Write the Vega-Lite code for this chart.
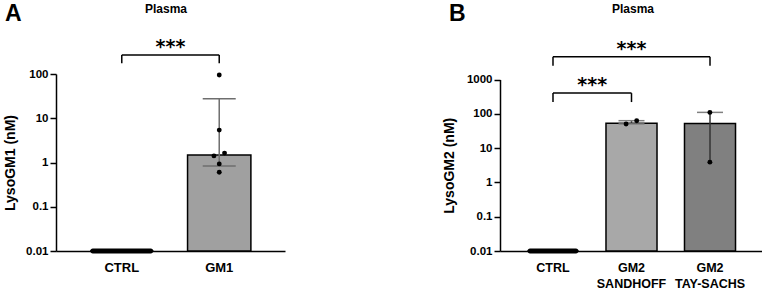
{
  "$schema": "https://vega.github.io/schema/vega-lite/v6.json",
  "background": "white",
  "padding": {"left": 3, "top": 2, "right": 0, "bottom": 0},
  "bounds": "flush",
  "spacing": 215,
  "config": {
    "view": {"stroke": null},
    "font": "Liberation Sans",
    "axis": {
      "grid": false,
      "domainColor": "black",
      "domainWidth": 1.5,
      "tickColor": "black",
      "tickWidth": 1.5,
      "labelColor": "black",
      "labelFont": "Liberation Sans",
      "labelFontWeight": "bold",
      "titleColor": "black",
      "titleFont": "Liberation Sans",
      "titleFontWeight": "bold"
    },
    "title": {"font": "Liberation Sans", "fontWeight": "bold", "color": "black", "fontSize": 23, "anchor": "start", "frame": "group"}
  },
  "hconcat": [
    {
      "width": 229,
      "height": 177,
      "title": {"text": "A", "dx": -51, "offset": -24},
      "resolve": {"axis": {"x": "independent"}, "scale": {"xOffset": "independent"}},
      "layer": [
        {
          "data": {"values": [
            {"group": "CTRL", "mean": 0.01},
            {"group": "GM1", "mean": 1.48, "lo": 0.83, "hi": 27.7}
          ]},
          "mark": {"type": "bar", "fill": "#a0a0a0", "stroke": "black", "strokeWidth": 1.5},
          "encoding": {
            "x": {"field": "group", "type": "nominal", "sort": ["CTRL", "GM1"],
              "scale": {"paddingInner": 0.35, "paddingOuter": 0.35},
              "axis": {"orient": "bottom", "title": null, "ticks": false, "labelAngle": 0, "labelFontSize": 13, "labelPadding": 10}},
            "y": {"field": "mean", "type": "quantitative",
              "scale": {"type": "log", "domain": [0.01, 100]},
              "axis": {"title": "LysoGM1 (nM)", "titleFontSize": 14, "titlePadding": 8, "values": [0.01, 0.1, 1, 10, 100], "format": "~g", "labelFontSize": 11.5, "tickSize": 6, "labelPadding": 2}},
            "y2": {"datum": 0.01}
          }
        },
        {
          "data": {"values": [
            {"group": "CTRL", "mean": 0.01}
          ]},
          "mark": {"type": "tick", "color": "black", "thickness": 5, "size": 63, "cornerRadius": 2.5, "opacity": 1},
          "encoding": {
            "x": {"field": "group", "type": "nominal",
              "axis": {"orient": "top", "title": "Plasma", "titleFontSize": 12, "titleX": 109.5, "labels": false, "ticks": false, "domain": false, "titlePadding": 59}},
            "y": {"field": "mean", "type": "quantitative"}
          }
        },
        {
          "data": {"values": [
            {"group": "GM1", "lo": 0.83, "hi": 27.7}
          ]},
          "mark": {"type": "rule", "color": "#6e6e6e", "strokeWidth": 1.5},
          "encoding": {
            "x": {"field": "group", "type": "nominal", "axis": null},
            "y": {"field": "lo", "type": "quantitative"},
            "y2": {"field": "hi"}
          }
        },
        {
          "data": {"values": [
            {"group": "GM1", "lo": 0.83, "hi": 27.7}
          ]},
          "transform": [{"fold": ["lo", "hi"], "as": ["end", "cap"]}],
          "mark": {"type": "tick", "color": "#6e6e6e", "thickness": 1.5, "size": 33, "opacity": 1},
          "encoding": {
            "x": {"field": "group", "type": "nominal", "axis": null},
            "y": {"field": "cap", "type": "quantitative"}
          }
        },
        {
          "data": {"values": [
            {"group": "GM1", "value": 95, "pos": "C"},
            {"group": "GM1", "value": 5.4, "pos": "C"},
            {"group": "GM1", "value": 1.63, "pos": "R"},
            {"group": "GM1", "value": 1.41, "pos": "L"},
            {"group": "GM1", "value": 0.93, "pos": "C"},
            {"group": "GM1", "value": 0.6, "pos": "C"}
          ]},
          "mark": {"type": "point", "filled": true, "color": "black", "size": 24, "opacity": 1},
          "encoding": {
            "x": {"field": "group", "type": "nominal", "axis": null},
            "xOffset": {"field": "pos", "type": "nominal", "scale": {"type": "point", "domain": ["L", "C", "R"], "padding": 0, "range": [26.4, 37]}},
            "y": {"field": "value", "type": "quantitative"}
          }
        },
        {
          "data": {"values": [
            {"from": "CTRL", "to": "GM1", "top": 268, "foot": 175, "label": "***"}
          ]},
          "mark": {"type": "rule", "color": "black", "strokeWidth": 1.5},
          "encoding": {
            "x": {"field": "from", "type": "nominal", "bandPosition": 0.5, "axis": null},
            "x2": {"field": "to"},
            "y": {"field": "top", "type": "quantitative"}
          }
        },
        {
          "data": {"values": [
            {"from": "CTRL", "to": "GM1", "top": 268, "foot": 175, "label": "***"}
          ]},
          "mark": {"type": "rule", "color": "black", "strokeWidth": 1.5},
          "encoding": {
            "x": {"field": "from", "type": "nominal", "bandPosition": 0.5, "axis": null},
            "y": {"field": "top", "type": "quantitative"},
            "y2": {"field": "foot"}
          }
        },
        {
          "data": {"values": [
            {"from": "CTRL", "to": "GM1", "top": 268, "foot": 175, "label": "***"}
          ]},
          "mark": {"type": "rule", "color": "black", "strokeWidth": 1.5},
          "encoding": {
            "x": {"field": "to", "type": "nominal", "bandPosition": 0.5, "axis": null},
            "y": {"field": "top", "type": "quantitative"},
            "y2": {"field": "foot"}
          }
        },
        {
          "data": {"values": [
            {"from": "CTRL", "to": "GM1", "top": 268, "foot": 175, "label": "***"}
          ]},
          "mark": {"type": "text", "font": "DejaVu Sans", "fontWeight": "bold", "fontSize": 19, "align": "center", "baseline": "alphabetic", "dy": -2, "color": "black"},
          "encoding": {
            "x": {"field": "from", "type": "nominal", "bandPosition": 1.269, "axis": null},
            "y": {"field": "top", "type": "quantitative"},
            "text": {"field": "label"}
          }
        }
      ]
    },
    {
      "width": 263,
      "height": 177,
      "title": {"text": "B", "dx": -51, "offset": -24},
      "resolve": {"axis": {"x": "independent"}, "scale": {"xOffset": "independent"}},
      "layer": [
        {
          "data": {"values": [
            {"group": "CTRL", "mean": 0.01},
            {"group": "GM2 SANDHOFF", "mean": 53},
            {"group": "GM2 TAY-SACHS", "mean": 52}
          ]},
          "mark": {"type": "bar", "stroke": "black", "strokeWidth": 1.5},
          "encoding": {
            "x": {"field": "group", "type": "nominal", "sort": ["CTRL", "GM2 SANDHOFF", "GM2 TAY-SACHS"],
              "scale": {"paddingInner": 0.35, "paddingOuter": 0.35},
              "axis": {"orient": "bottom", "title": null, "ticks": false, "labelAngle": 0, "labelFontSize": 12.5, "labelLineHeight": 16, "labelPadding": 10, "labelExpr": "split(datum.label, ' ')"}},
            "y": {"field": "mean", "type": "quantitative",
              "scale": {"type": "log", "domain": [0.01, 1000], "range": [177, 5.5]},
              "axis": {"title": "LysoGM2 (nM)", "titleFontSize": 14, "titlePadding": 10, "values": [0.01, 0.1, 1, 10, 100, 1000], "format": "~g", "labelFontSize": 11.5, "tickSize": 6, "labelPadding": 2}},
            "y2": {"datum": 0.01},
            "fill": {"field": "group", "type": "nominal", "legend": null,
              "scale": {"domain": ["CTRL", "GM2 SANDHOFF", "GM2 TAY-SACHS"], "range": ["#000000", "#a8a8a8", "#808080"]}}
          }
        },
        {
          "data": {"values": [
            {"group": "CTRL", "mean": 0.01}
          ]},
          "mark": {"type": "tick", "color": "black", "thickness": 5, "size": 51, "cornerRadius": 2.5, "opacity": 1},
          "encoding": {
            "x": {"field": "group", "type": "nominal",
              "axis": {"orient": "top", "title": "Plasma", "titleFontSize": 12, "titleX": 132.5, "labels": false, "ticks": false, "domain": false, "titlePadding": 59}},
            "y": {"field": "mean", "type": "quantitative"}
          }
        },
        {
          "data": {"values": [
            {"group": "GM2 SANDHOFF", "lo": 50.6, "hi": 63},
            {"group": "GM2 TAY-SACHS", "lo": 3.9, "hi": 110}
          ]},
          "mark": {"type": "rule", "color": "#333333", "strokeWidth": 1.5},
          "encoding": {
            "x": {"field": "group", "type": "nominal", "axis": null},
            "y": {"field": "lo", "type": "quantitative"},
            "y2": {"field": "hi"}
          }
        },
        {
          "data": {"values": [
            {"group": "GM2 SANDHOFF", "lo": 50.6, "hi": 63},
            {"group": "GM2 TAY-SACHS", "lo": 3.9, "hi": 110}
          ]},
          "transform": [{"fold": ["lo", "hi"], "as": ["end", "cap"]}],
          "mark": {"type": "tick", "color": "#808080", "thickness": 1.5, "size": 26, "opacity": 1},
          "encoding": {
            "x": {"field": "group", "type": "nominal", "axis": null},
            "y": {"field": "cap", "type": "quantitative"}
          }
        },
        {
          "data": {"values": [
            {"group": "GM2 SANDHOFF", "value": 50.6, "pos": "L"},
            {"group": "GM2 SANDHOFF", "value": 63, "pos": "R"},
            {"group": "GM2 TAY-SACHS", "value": 110, "pos": "C"},
            {"group": "GM2 TAY-SACHS", "value": 3.9, "pos": "C"}
          ]},
          "mark": {"type": "point", "filled": true, "color": "black", "size": 24, "opacity": 1},
          "encoding": {
            "x": {"field": "group", "type": "nominal", "axis": null},
            "xOffset": {"field": "pos", "type": "nominal", "scale": {"type": "point", "domain": ["L", "C", "R"], "padding": 0, "range": [20.1, 30.7]}},
            "y": {"field": "value", "type": "quantitative"}
          }
        },
        {
          "data": {"values": [
            {"from": "CTRL", "to": "GM2 SANDHOFF", "top": 401, "foot": 220, "label": "***"},
            {"from": "CTRL", "to": "GM2 TAY-SACHS", "top": 4640, "foot": 2512, "label": "***"}
          ]},
          "mark": {"type": "rule", "color": "black", "strokeWidth": 1.5},
          "encoding": {
            "x": {"field": "from", "type": "nominal", "bandPosition": 0.5, "axis": null},
            "x2": {"field": "to"},
            "y": {"field": "top", "type": "quantitative"}
          }
        },
        {
          "data": {"values": [
            {"from": "CTRL", "to": "GM2 SANDHOFF", "top": 401, "foot": 220, "label": "***"},
            {"from": "CTRL", "to": "GM2 TAY-SACHS", "top": 4640, "foot": 2512, "label": "***"}
          ]},
          "mark": {"type": "rule", "color": "black", "strokeWidth": 1.5},
          "encoding": {
            "x": {"field": "from", "type": "nominal", "bandPosition": 0.5, "axis": null},
            "y": {"field": "top", "type": "quantitative"},
            "y2": {"field": "foot"}
          }
        },
        {
          "data": {"values": [
            {"from": "CTRL", "to": "GM2 SANDHOFF", "top": 401, "foot": 220, "label": "***"},
            {"from": "CTRL", "to": "GM2 TAY-SACHS", "top": 4640, "foot": 2512, "label": "***"}
          ]},
          "mark": {"type": "rule", "color": "black", "strokeWidth": 1.5},
          "encoding": {
            "x": {"field": "to", "type": "nominal", "bandPosition": 0.5, "axis": null},
            "y": {"field": "top", "type": "quantitative"},
            "y2": {"field": "foot"}
          }
        },
        {
          "data": {"values": [
            {"from": "CTRL", "to": "GM2 SANDHOFF", "top": 401, "label": "***"}
          ]},
          "mark": {"type": "text", "font": "DejaVu Sans", "fontWeight": "bold", "fontSize": 19, "align": "center", "baseline": "alphabetic", "dy": -2, "color": "black"},
          "encoding": {
            "x": {"field": "from", "type": "nominal", "bandPosition": 1.269, "axis": null},
            "y": {"field": "top", "type": "quantitative"},
            "text": {"field": "label"}
          }
        },
        {
          "data": {"values": [
            {"from": "CTRL", "to": "GM2 TAY-SACHS", "top": 4640, "label": "***"}
          ]},
          "mark": {"type": "text", "font": "DejaVu Sans", "fontWeight": "bold", "fontSize": 19, "align": "center", "baseline": "alphabetic", "dy": -2, "color": "black"},
          "encoding": {
            "x": {"field": "from", "type": "nominal", "bandPosition": 2.038, "axis": null},
            "y": {"field": "top", "type": "quantitative"},
            "text": {"field": "label"}
          }
        }
      ]
    }
  ]
}
